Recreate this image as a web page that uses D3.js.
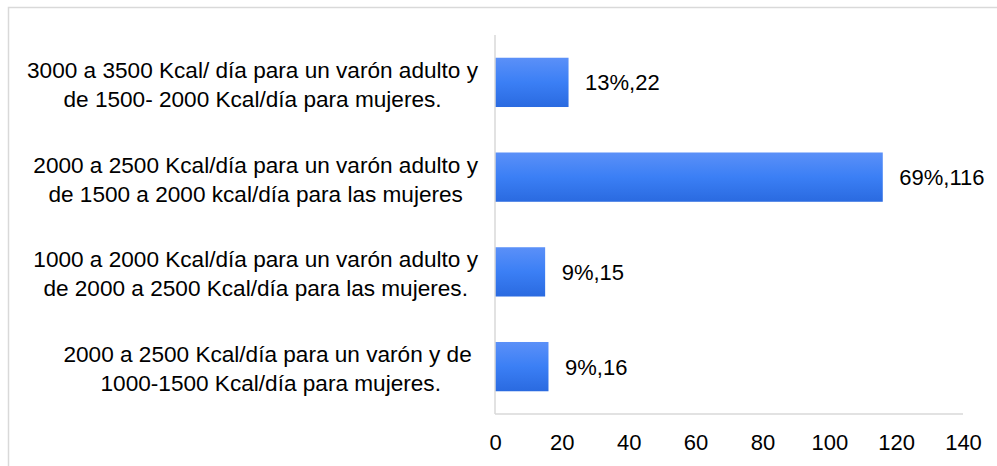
<!DOCTYPE html>
<html>
<head>
<meta charset="utf-8">
<script src="https://cdn.jsdelivr.net/npm/d3@7"></script>
<style>
  html, body { margin: 0; padding: 0; background: #fff; }
  svg { display: block; font-family: Arial, "Liberation Sans", sans-serif; }
</style>
</head>
<body>
<svg id="chart" width="997" height="466"></svg>
<script>
const categories = [
  "3000 a 3500 Kcal/ día para un varón adulto y|de 1500- 2000 Kcal/día para mujeres.",
  "2000 a 2500 Kcal/día para un varón adulto y|de 1500 a 2000 kcal/día para las mujeres",
  "1000 a 2000 Kcal/día para un varón adulto y|de 2000 a 2500 Kcal/día para las mujeres.",
  "2000 a 2500 Kcal/día para un varón y de |1000-1500 Kcal/día para mujeres."
];
const values = [22, 116, 15, 16];
const percents = ["13%", "69%", "9%", "9%"];
const xTicks = [0, 20, 40, 60, 80, 100, 120, 140];

const svg = d3.select("#chart");
const W = 997, H = 466;
const margin = { left: 495, right: 34, top: 35, bottom: 52 };

const x = d3.scaleLinear().domain([0, 140]).range([margin.left, W - margin.right]);
const y = d3.scaleBand().domain(categories).range([margin.top, H - margin.bottom])
  .paddingInner(0.48).paddingOuter(0.24);

// outer frame
svg.append("rect")
  .attr("x", 8.5).attr("y", 7.5).attr("width", 1000).attr("height", 500)
  .attr("fill", "none").attr("stroke", "#d9d9d9").attr("stroke-width", 1.5);

// gradient
const defs = svg.append("defs");
const grad = defs.append("linearGradient").attr("id", "barGrad")
  .attr("x1", 0).attr("y1", 0).attr("x2", 0).attr("y2", 1);
grad.append("stop").attr("offset", "0%").attr("stop-color", "#5b90f8");
grad.append("stop").attr("offset", "50%").attr("stop-color", "#3b7ff5");
grad.append("stop").attr("offset", "100%").attr("stop-color", "#2a6ae0");

// bars
svg.append("g").selectAll("rect").data(categories).join("rect")
  .attr("x", x(0))
  .attr("y", d => y(d))
  .attr("width", (d, i) => x(values[i]) - x(0))
  .attr("height", y.bandwidth())
  .attr("fill", "url(#barGrad)");

// axes lines
const xAxis = d3.axisBottom(x).tickValues(xTicks).tickSize(0).tickPadding(0);
const gx = svg.append("g").attr("transform", `translate(0,${H - margin.bottom})`).call(xAxis);
gx.select(".domain").attr("stroke", "#d9d9d9").attr("stroke-width", 1.5)
  .attr("d", `M${x(0)},0H${x(140)}`);
gx.selectAll("text").attr("font-size", "22px").attr("fill", "#000")
  .attr("font-family", "Arial, 'Liberation Sans', sans-serif")
  .attr("dy", null).attr("y", 36);

const yAxis = d3.axisLeft(y).tickSize(0).tickFormat("");
const gy = svg.append("g").attr("transform", `translate(${margin.left},0)`).call(yAxis);
gy.select(".domain").attr("stroke", "#d9d9d9").attr("stroke-width", 1.5)
  .attr("d", `M0,${margin.top}V${H - margin.bottom}`);

// category labels (two lines, block right-aligned, lines centred)
const labelRight = 478;
const lg = svg.append("g");
categories.forEach(c => {
  const lines = c.split("|");
  const cy = y(c) + y.bandwidth() / 2;
  const g = lg.append("g");
  const texts = lines.map((ln, j) => g.append("text")
    .attr("font-size", "22.6px").attr("fill", "#000")
    .style("white-space", "pre")
    .attr("y", cy + (j === 0 ? -4.5 : 24.5))
    .attr("text-anchor", "middle")
    .text(ln));
  const maxW = d3.max(texts, t => t.node().getComputedTextLength());
  texts.forEach(t => t.attr("x", labelRight - maxW / 2));
});

// value labels
svg.append("g").selectAll("text").data(categories).join("text")
  .attr("x", (d, i) => x(values[i]) + 16.5)
  .attr("y", d => y(d) + y.bandwidth() / 2 + 8)
  .attr("font-size", "22px").attr("fill", "#000")
  .text((d, i) => `${percents[i]},${values[i]}`);
</script>
</body>
</html>
